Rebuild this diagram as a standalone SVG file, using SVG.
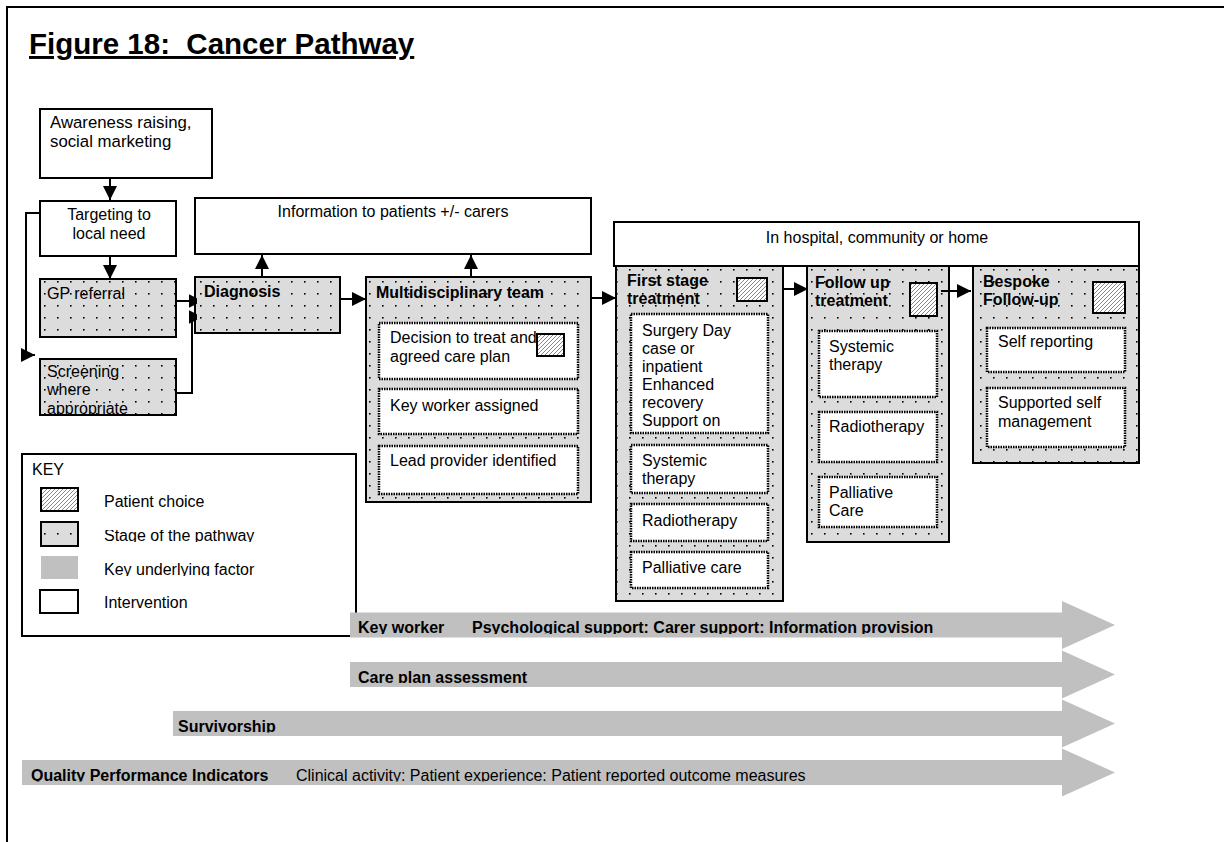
<svg xmlns="http://www.w3.org/2000/svg" width="1224" height="842" viewBox="0 0 1224 842">
<style>
.t{font-family:"Liberation Sans",Arial,Helvetica,sans-serif;font-size:16px;fill:#000}
.b{font-weight:bold}
.c{text-anchor:middle}
.iv{fill:#fff;stroke:#000;stroke-width:2}
.st{fill:url(#dots);stroke:#000;stroke-width:2}
.in{fill:#fff;stroke:#000;stroke-width:2.5;stroke-dasharray:1.5 1}
.pc{fill:url(#hatch);stroke:#000;stroke-width:2}
.kf{fill:#c0c0c0}
.cn{fill:none;stroke:#000;stroke-width:2;marker-end:url(#ah)}
.cs{fill:none;stroke:#000;stroke-width:2;marker-end:url(#ahs)}
</style>
<defs>
<pattern id="dots" width="13" height="12" patternUnits="userSpaceOnUse">
<rect width="13" height="12" fill="#dcdcdc"/>
<rect x="5" y="5" width="1.6" height="1.6" fill="#000"/>
</pattern>
<pattern id="hatch" width="4" height="4" patternUnits="userSpaceOnUse">
<rect width="4" height="4" fill="#fff"/>
<path d="M-1,1 L1,-1 M0,4 L4,0 M3,5 L5,3" stroke="#555" stroke-width="0.7"/>
</pattern>
<marker id="ah" markerUnits="userSpaceOnUse" markerWidth="15" markerHeight="15" refX="14" refY="7" orient="auto">
<path d="M0,0 L14,7 L0,14 z" fill="#000"/>
</marker>
<marker id="ahs" markerUnits="userSpaceOnUse" markerWidth="10" markerHeight="15" refX="8.5" refY="7" orient="auto">
<path d="M0,0 L8.5,4.25 L8.5,9.75 L0,14 z" fill="#000"/>
</marker>
<clipPath id="clipScr"><rect x="40" y="359" width="136" height="55"/></clipPath>
<clipPath id="clipSurg"><rect x="631" y="314" width="137" height="113.5"/></clipPath>
<clipPath id="clipK1"><rect x="0" y="530" width="400" height="12"/></clipPath>
<clipPath id="clipK2"><rect x="0" y="563" width="400" height="13"/></clipPath>
<clipPath id="clipA1"><rect x="350" y="612" width="720" height="22"/></clipPath>
<clipPath id="clipA2"><rect x="350" y="662" width="720" height="21"/></clipPath>
<clipPath id="clipA3"><rect x="173" y="711" width="900" height="21.5"/></clipPath>
<clipPath id="clipA4"><rect x="22" y="760" width="1050" height="21.5"/></clipPath>
</defs>

<rect width="1224" height="842" fill="#fff"/>
<path d="M7,842 V7 H1224" fill="none" stroke="#000" stroke-width="2"/>

<text class="t b" x="29" y="54" style="font-size:29.5px;white-space:pre;text-decoration:underline">Figure 18:  Cancer Pathway</text>

<g id="awareness">
<rect class="iv" x="40" y="109" width="172" height="69"/>
<text class="t" x="50" y="127.5" style="font-size:16.8px">Awareness raising,</text>
<text class="t" x="50" y="147" style="font-size:16.8px">social marketing</text>
</g>

<g id="targeting">
<rect class="iv" x="40" y="201" width="136" height="55"/>
<text class="t c" x="109" y="220">Targeting to</text>
<text class="t c" x="109" y="238.5">local need</text>
</g>

<g id="information">
<rect class="iv" x="195" y="198" width="396" height="56"/>
<text class="t c" x="393" y="217">Information to patients +/- carers</text>
</g>

<g id="hospital">
<rect class="iv" x="614" y="222" width="525" height="44"/>
<text class="t c" x="877" y="243">In hospital, community or home</text>
</g>

<g id="gp-referral">
<rect class="st" x="40" y="279" width="136" height="58"/>
<text class="t" x="47" y="299">GP referral</text>
</g>

<g id="screening">
<rect class="st" x="40" y="359" width="136" height="56"/>
<g clip-path="url(#clipScr)">
<text class="t" x="47" y="377">Screening</text>
<text class="t" x="47" y="395.4">where</text>
<text class="t" x="47" y="413.8">appropriate</text>
</g>
</g>

<g id="diagnosis">
<rect class="st" x="195" y="277" width="145" height="56"/>
<text class="t b" x="204" y="297">Diagnosis</text>
</g>

<g id="mdt">
<rect class="st" x="366" y="277" width="225" height="225"/>
<text class="t b" x="376" y="298">Multidisciplinary team</text>
<rect class="in" x="379" y="323" width="199" height="56"/>
<text class="t" x="390" y="343">Decision to treat and</text>
<text class="t" x="390" y="361.5">agreed care plan</text>
<rect class="pc" x="537" y="334" width="27" height="22"/>
<rect class="in" x="379" y="389" width="199" height="45"/>
<text class="t" x="390" y="410.7">Key worker assigned</text>
<rect class="in" x="379" y="446" width="199" height="48"/>
<text class="t" x="390" y="466">Lead provider identified</text>
</g>

<g id="first-stage">
<rect class="st" x="616" y="266" width="167" height="335"/>
<text class="t b" x="627" y="286">First stage</text>
<text class="t b" x="627" y="304">treatment</text>
<rect class="pc" x="737" y="278" width="30" height="23"/>
<rect class="in" x="631" y="314" width="137" height="119"/>
<g clip-path="url(#clipSurg)">
<text class="t" x="642" y="336">Surgery Day</text>
<text class="t" x="642" y="354">case or</text>
<text class="t" x="642" y="372">inpatient</text>
<text class="t" x="642" y="390">Enhanced</text>
<text class="t" x="642" y="408">recovery</text>
<text class="t" x="642" y="426">Support on</text>
</g>
<rect class="in" x="631" y="445" width="137" height="48"/>
<text class="t" x="642" y="466">Systemic</text>
<text class="t" x="642" y="484">therapy</text>
<rect class="in" x="631" y="504" width="137" height="37"/>
<text class="t" x="642" y="526">Radiotherapy</text>
<rect class="in" x="631" y="552" width="137" height="36"/>
<text class="t" x="642" y="573">Palliative care</text>
</g>

<g id="follow-up">
<rect class="st" x="807" y="266" width="142" height="276"/>
<text class="t b" x="815" y="288">Follow up</text>
<text class="t b" x="815" y="306">treatment</text>
<rect class="pc" x="910" y="283" width="27" height="33"/>
<rect class="in" x="819" y="331" width="118" height="66"/>
<text class="t" x="829" y="352">Systemic</text>
<text class="t" x="829" y="370">therapy</text>
<rect class="in" x="819" y="412" width="118" height="50"/>
<text class="t" x="829" y="432">Radiotherapy</text>
<rect class="in" x="819" y="477" width="118" height="50"/>
<text class="t" x="829" y="498">Palliative</text>
<text class="t" x="829" y="516">Care</text>
</g>

<g id="bespoke">
<rect class="st" x="973" y="266" width="166" height="197"/>
<text class="t b" x="983" y="287">Bespoke</text>
<text class="t b" x="983" y="305">Follow-up</text>
<rect class="pc" x="1093" y="282" width="32" height="31"/>
<rect class="in" x="987" y="328" width="138" height="44"/>
<text class="t" x="998" y="347">Self reporting</text>
<rect class="in" x="987" y="388" width="138" height="59"/>
<text class="t" x="998" y="408">Supported self</text>
<text class="t" x="998" y="426.5">management</text>
</g>

<g id="key">
<rect x="22" y="454" width="334" height="182" fill="#fff" stroke="#000" stroke-width="2"/>
<text class="t" x="32" y="475">KEY</text>
<rect class="pc" x="41" y="488" width="37" height="23"/>
<text class="t" x="104" y="507">Patient choice</text>
<rect class="st" x="41" y="522" width="37" height="24"/>
<text class="t" x="104" y="541" clip-path="url(#clipK1)">Stage of the pathway</text>
<rect class="kf" x="41" y="556" width="37" height="23"/>
<text class="t" x="104" y="575" clip-path="url(#clipK2)">Key underlying factor</text>
<rect class="iv" x="40" y="590" width="38" height="23"/>
<text class="t" x="104" y="608">Intervention</text>
</g>

<g id="connectors">
<path class="cn" d="M110,178 V200"/>
<path class="cn" d="M110,256 V279"/>
<path class="cn" d="M40,213 H26 V355 H35"/>
<path class="cs" d="M176,301 H197"/>
<path class="cs" d="M176,393 H192 V317 H197"/>
<path class="cn" d="M262,277 V255"/>
<path class="cn" d="M340,299 H366"/>
<path class="cn" d="M471,277 V255"/>
<path class="cn" d="M591,298 H616"/>
<path class="cn" d="M783,289 H808"/>
<path class="cn" d="M941,291 H971"/>
</g>

<g id="factor-key-worker">
<polygon class="kf" points="350,612.5 1062,612.5 1062,601 1115,625 1062,649 1062,637.5 350,637.5"/>
<g clip-path="url(#clipA1)">
<text class="t b" x="358" y="633">Key worker</text>
<text class="t b" x="472" y="633">Psychological support: Carer support: Information provision</text>
</g>
</g>

<g id="factor-care-plan">
<polygon class="kf" points="350,662 1062,662 1062,650.5 1115,674.5 1062,698.5 1062,687 350,687"/>
<text class="t b" x="358" y="682.5" clip-path="url(#clipA2)">Care plan assessment</text>
</g>

<g id="factor-survivorship">
<polygon class="kf" points="173,711 1062,711 1062,699.5 1115,723.5 1062,747.5 1062,736 173,736"/>
<text class="t b" x="178" y="731.5" clip-path="url(#clipA3)">Survivorship</text>
</g>

<g id="factor-qpi">
<polygon class="kf" points="22,760 1062,760 1062,748.5 1115,772.5 1062,796.5 1062,785 22,785"/>
<g clip-path="url(#clipA4)">
<text class="t b" x="31" y="780.5">Quality Performance Indicators</text>
<text class="t" x="296" y="780.5">Clinical activity: Patient experience: Patient reported outcome measures</text>
</g>
</g>
</svg>
